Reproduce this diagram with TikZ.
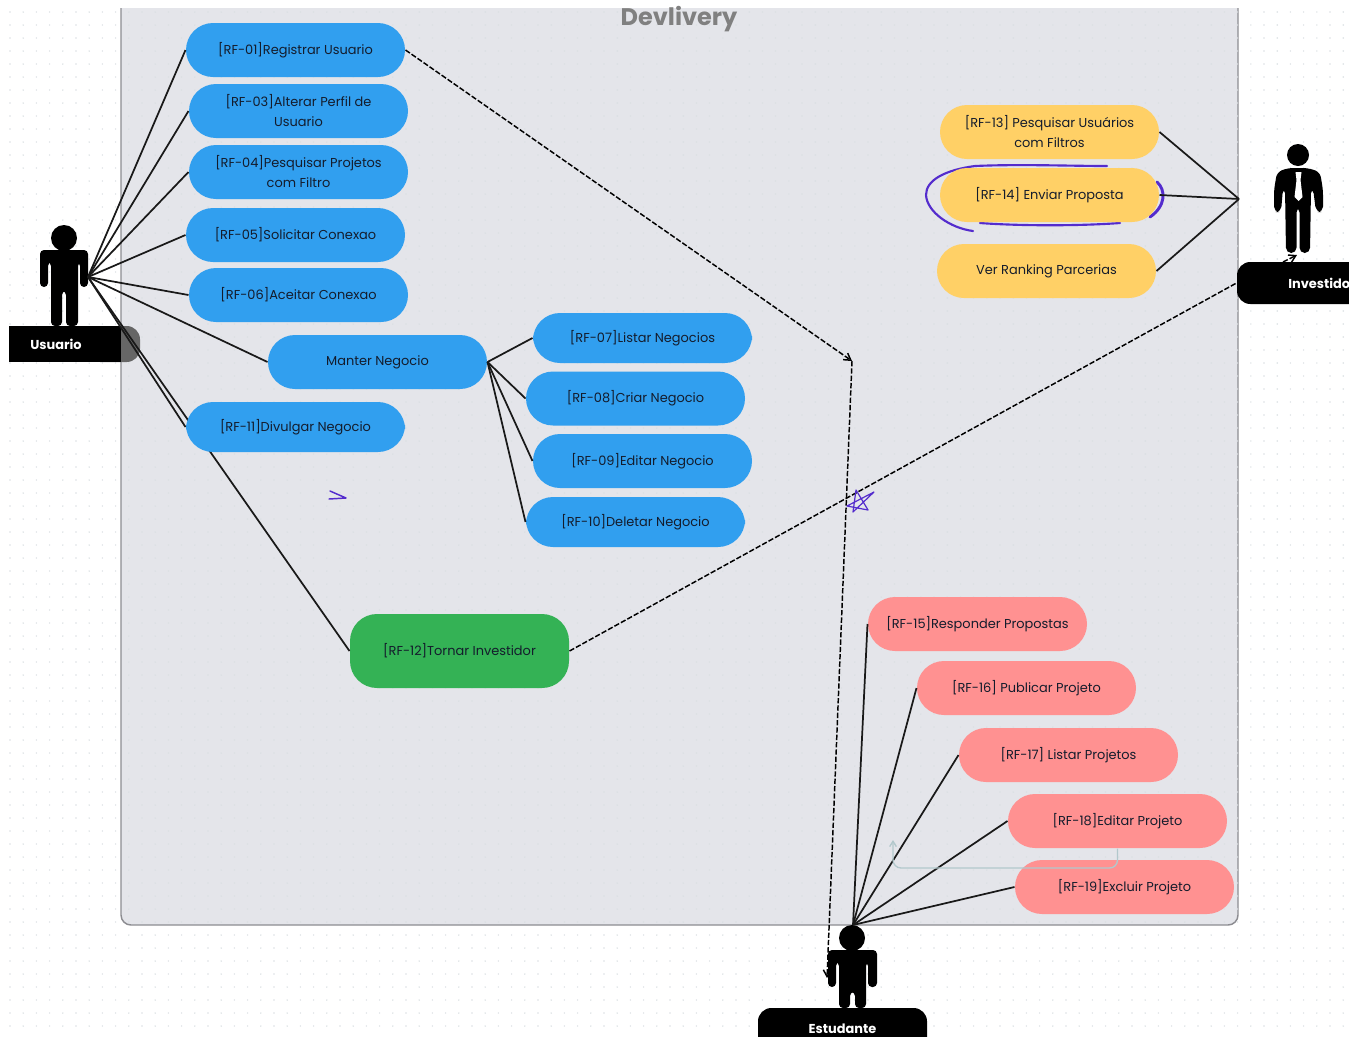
\documentclass[tikz,border=0pt]{standalone}
\usepackage{fontspec}
\setmainfont{Poppins}
\usetikzlibrary{arrows.meta}
\definecolor{panelfill}{RGB}{228,229,234}
\definecolor{paneledge}{RGB}{140,140,145}
\definecolor{griddot}{RGB}{218,223,226}
\definecolor{bluecase}{RGB}{49,159,239}
\definecolor{yellowcase}{RGB}{255,208,102}
\definecolor{redcase}{RGB}{255,145,145}
\definecolor{greencase}{RGB}{52,178,85}
\definecolor{scribble}{RGB}{84,44,205}
\definecolor{teelline}{RGB}{178,200,204}
\definecolor{casetext}{RGB}{20,28,44}
\tikzset{every picture/.style={line width=0.75pt}}
\tikzset{
  usecase/.style={draw=none,rounded corners=27*0.75pt,minimum width=219*0.75pt,minimum height=54*0.75pt,
    inner sep=0pt,align=center,text=casetext,font=\fontsize{9.7pt}{15pt}\selectfont},
  bluecase/.style={usecase,fill=bluecase},
  yellowcase/.style={usecase,fill=yellowcase},
  redcase/.style={usecase,fill=redcase},
  actorlabel/.style={fill=black,text=white,inner sep=0pt,font=\fontsize{9.7pt}{12pt}\selectfont\bfseries},
  assoc/.style={draw=black!90,line width=1.3pt},
  depend/.style={draw=black,line width=1.1pt,dashed,dash pattern=on 4pt off 1.5pt,-{Straight Barb[length=5pt,width=6pt]}},
  scribbleline/.style={draw=scribble,line cap=round,line join=round}
}
\begin{document}
\begin{tikzpicture}[x=0.75pt,y=0.75pt,yscale=-1,xscale=1]
\useasboundingbox (0,0) rectangle (1349,1036);
\clip (0,0) rectangle (1349,1036);

%Panel
\begin{scope}
\clip (0,8) rectangle (1349,1036);
\draw [draw=paneledge,fill=panelfill,line width=1.1pt,rounded corners=7.5pt] (121,-30) rectangle (1238,925);
\foreach \y in {12,25,...,1036} {
  \draw [griddot,line width=1.2pt,line cap=round,dash pattern=on 0pt off 9.9pt] (10,\y) -- (1349,\y);
}
\end{scope}
% Text Node
\node (title) [text=black!50,font=\fontsize{18pt}{20pt}\selectfont\bfseries] at (679,19) {Devlivery};

%Usuario actor
\fill [black!60] (100,326) [rounded corners=10pt] -- (140,326) -- (140,362) [sharp corners] -- (100,362) -- cycle;
\node (usuario) [actorlabel,minimum width=112*0.75pt,minimum height=36*0.75pt] at (65,344) {};
\node (usuarioLabel) [text=white,inner sep=0pt,font=\fontsize{9.7pt}{12pt}\selectfont\bfseries] at (56,344) {Usuario};
\fill (64,238) circle (13);
\fill [rounded corners=3pt] (40,287) -- (40,250) -- (88,250) -- (88,287) -- (80,287) -- (80,262) -- (78,262) -- (78,326) -- (66,326) -- (66,291) -- (62,291) -- (62,326) -- (51,326) -- (51,262) -- (48,262) -- (48,287) -- cycle;
\coordinate (usuarioHand) at (88,277);

%Investidor actor
\node (investidor) [actorlabel,text width=170*0.75pt,align=center,minimum height=42*0.75pt,rounded corners=10pt] at (1322,283) {Investidor};
\fill (1298,155) circle (11);
\fill [rounded corners=4pt] (1274,212) -- (1274,190) -- (1277,172) -- (1288,168) -- (1308,168) -- (1320,172) -- (1323,190) -- (1323,212) -- (1316,212) -- (1313,188) -- (1311,188) -- (1310,253) -- (1299.5,253) -- (1299.5,207) -- (1296.5,207) -- (1296.5,253) -- (1286,253) -- (1285,188) -- (1283,188) -- (1281,212) -- cycle;
\fill [white] (1295.5,172) -- (1301.5,172) -- (1300.5,180) -- (1302.5,197) -- (1298.5,201) -- (1294.5,197) -- (1296.5,180) -- cycle;
\coordinate (investidorHand) at (1239,199);
\coordinate (investidorFoot) at (1297,255);

%Estudante actor
\node (estudante) [actorlabel,text width=169*0.75pt,align=center,minimum height=42*0.75pt,rounded corners=10pt] at (842.5,1029) {Estudante};
\fill (852,938) circle (13);
\fill [rounded corners=3pt] (828,987) -- (828,950) -- (877,950) -- (877,987) -- (868,987) -- (868,962) -- (866,962) -- (866,1008) -- (855,1008) -- (855,992) -- (850,992) -- (850,1008) -- (839,1008) -- (839,962) -- (836,962) -- (836,987) -- cycle;
\coordinate (estudanteHead) at (853,925);
\coordinate (estudanteHand) at (827,978);

%Scribble round RF-14
\draw [scribbleline,line width=1.6pt] (973,231) .. controls (950,228) and (927,212) .. (926,195) .. controls (926,180) and (945,170) .. (975,166) .. controls (1020,164) and (1070,166) .. (1107,166);
\draw [scribbleline,line width=1.6pt] (980,223) .. controls (1020,226) and (1080,226) .. (1120,223);
\draw [scribbleline,line width=2.2pt] (1157,182) .. controls (1166,190) and (1166,206) .. (1150,217);

% Text Node
\node (rf12) [usecase,fill=greencase,minimum height=74*0.75pt] at (459.5,651) {[RF-12]Tornar Investidor};
%Straight Lines
\draw [assoc] (usuarioHand) -- (rf12.west);

% Text Node
\node (rf01) [bluecase] at (295.5,50) {[RF-01]Registrar Usuario};
\node (rf03) [bluecase] at (298.5,111) {[RF-03]Alterar Perfil de\\Usuario};
\node (rf04) [bluecase] at (298.5,172) {[RF-04]Pesquisar Projetos\\com Filtro};
\node (rf05) [bluecase] at (295.5,235) {[RF-05]Solicitar Conexao};
\node (rf06) [bluecase] at (298.5,295) {[RF-06]Aceitar Conexao};
\node (manter) [bluecase] at (377.5,362) {Manter Negocio};
\node (rf07) [bluecase,minimum height=50*0.75pt] at (642.5,338) {[RF-07]Listar Negocios};
\node (rf08) [bluecase] at (635.5,398.5) {[RF-08]Criar Negocio};
\node (rf09) [bluecase] at (642.5,461) {[RF-09]Editar Negocio};
\node (rf10) [bluecase,minimum height=50*0.75pt] at (635.5,522) {[RF-10]Deletar Negocio};
\node (rf11) [bluecase,minimum height=50*0.75pt] at (295.5,427) {[RF-11]Divulgar Negocio};
\node (rf13) [yellowcase] at (1049.5,132) {[RF-13] Pesquisar Usuários\\com Filtros};
\node (rf14) [yellowcase] at (1049.5,195) {[RF-14] Enviar Proposta};
\node (ranking) [yellowcase] at (1046.5,271) {Ver Ranking Parcerias};
\node (rf15) [redcase] at (977.5,624) {[RF-15]Responder Propostas};
\node (rf16) [redcase] at (1026.5,688) {[RF-16] Publicar Projeto};
\node (rf17) [redcase] at (1068.5,755) {[RF-17] Listar Projetos};
\node (rf18) [redcase] at (1117.5,821) {[RF-18]Editar Projeto};
\node (rf19) [redcase] at (1124.5,887) {[RF-19]Excluir Projeto};

%Straight Lines
\foreach \target in {rf01,rf03,rf04,rf05,rf06,manter,rf11} {
  \draw [assoc] (usuarioHand) -- (\target.west);
}
\foreach \target in {rf07,rf08,rf09,rf10} {
  \draw [assoc] (manter.east) -- (\target.west);
}
\foreach \target in {rf13,rf14,ranking} {
  \draw [assoc] (\target.east) -- (investidorHand);
}
\foreach \target in {rf15,rf16,rf17,rf18,rf19} {
  \draw [assoc] (estudanteHead) -- (\target.west);
}

%Dashed Lines
\coordinate (bend) at (852,361);
\draw [depend] (rf01.east) -- (bend);
\draw [depend] (bend) -- (estudanteHand);
\draw [depend,-] (rf12.east) -- (investidor.west);
\draw [depend] (1283,262) -- (investidorFoot);

%Curve Lines
\coordinate (loopEnd) at (893,840);
\draw [draw=teelline,line width=1pt,rounded corners=6pt,-{Straight Barb[length=4pt,width=5pt]}] (rf18.south) -- (1117.5,868) -- (893,868) -- (loopEnd);

%Scribble marks
\draw [scribbleline,line width=1.1pt] (330,491) -- (346,498) -- (329,499);
\draw [scribbleline,line width=0.9pt] (847,506) -- (874,492) -- (853,512) -- (856,490) -- (868,510) -- cycle;

\end{tikzpicture}
\end{document}
